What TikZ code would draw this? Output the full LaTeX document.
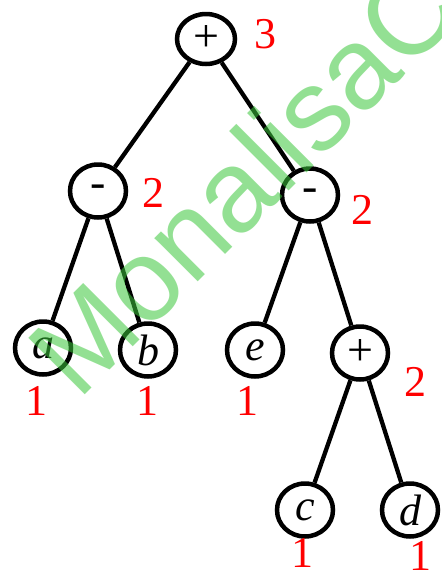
\documentclass[tikz,border=0pt]{standalone}
\usepackage{fontspec}
\setmainfont{Liberation Serif}
\newfontfamily\marksans{Liberation Sans}
\usetikzlibrary{shapes.geometric}
\definecolor{countred}{RGB}{255,0,0}
\definecolor{markgreen}{RGB}{60,200,60}
\tikzset{
  treenode/.style={ellipse, draw, line width=4.5pt, minimum width=56pt, minimum height=53pt,
    inner sep=0pt, font=\fontsize{44}{44}\selectfont},
  opnode/.style={treenode, font=\fontsize{46}{46}\selectfont},
  branch/.style={line width=4.3pt},
  count/.style={text=countred, font=\fontsize{44}{44}\selectfont, inner sep=0pt},
}
\begin{document}
\begin{tikzpicture}[x=1pt,y=-1pt]
\useasboundingbox (0,0) rectangle (442,579);
\fill[white] (0,0) rectangle (442,579);
% operator and leaf nodes
\node[opnode, minimum width=58pt, minimum height=50pt] (root) at (206,39) {+};
\node[opnode] (lminus) at (98,191) {-};
\node[opnode] (rminus) at (310,195) {-};
\node[treenode] (a) at (43,348) {\itshape a};
\node[treenode] (b) at (148,350) {\itshape b};
\node[treenode] (e) at (255,350) {\itshape e};
\node[opnode] (plus) at (360,353) {+};
\node[treenode] (c) at (305,510) {\itshape c};
\node[treenode] (d) at (410,510) {\itshape d};
% branches
\draw[branch] (root) -- (lminus);
\draw[branch] (root) -- (rminus);
\draw[branch] (lminus) -- (a);
\draw[branch] (lminus) -- (b);
\draw[branch] (rminus) -- (e);
\draw[branch] (rminus) -- (plus);
\draw[branch] (plus) -- (c);
\draw[branch] (plus) -- (d);
% register counts
\node[count] (nroot) at (265,34) {3};
\node[count] (nlminus) at (153,193) {2};
\node[count] (nrminus) at (362,210) {2};
\node[count] (nplus) at (415,382) {2};
\node[count] (na) at (36,401) {1};
\node[count] (nb) at (147,401) {1};
\node[count] (ne) at (247,401) {1};
\node[count] (nc) at (302,553) {1};
\node[count] (nd) at (420,556) {1};
% watermark
\node[anchor=base west, rotate=45, text=markgreen, opacity=0.55, inner sep=0pt,
  font=\marksans\fontsize{116}{116}\selectfont] (mark) at (78,402) {MonalisaC};
\end{tikzpicture}
\end{document}
